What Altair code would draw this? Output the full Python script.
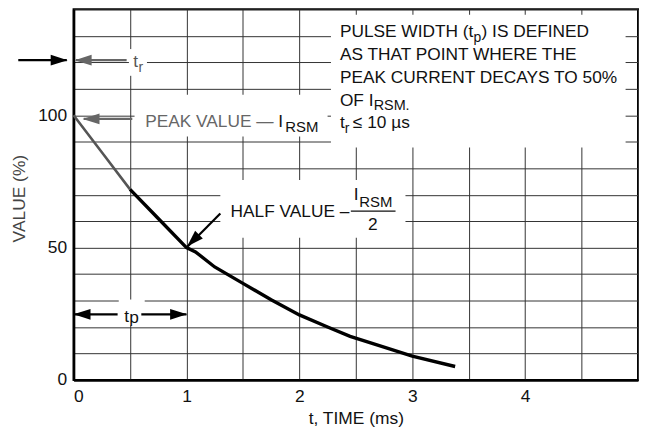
import altair as alt
import pandas as pd

FONT = "Liberation Sans, Arial, Helvetica, sans-serif"

# ---- curve ----
t_ms = [0, 0.25, 0.5, 0.75, 1.0, 1.08, 1.25, 1.5, 1.75, 2.0, 2.25, 2.45, 2.75, 3.0, 3.38]
value_pct = [100, 86, 72, 61, 50, 48.4, 42.7, 36.5, 30.3, 24.6, 20.0, 16.5, 12.4, 9.0, 5.1]
rise_end = 3  # first part of the curve drawn in grey

# ---- axes ----
x_grid = [0, 0.5, 1, 1.5, 2, 2.5, 3, 3.5, 4, 4.5, 5]
y_grid = [0, 10, 20, 30, 40, 50, 60, 70, 80, 90, 100, 110, 120, 130, 140]
x_domain = [0, 5]
y_domain = [0, 140]

# ---- annotation boxes (white, interrupt the grid) ----
box_x = [2.28, 0.54, 1.30, 0.49, 0.40]
box_x2 = [4.89, 2.25, 2.94, 0.65, 0.63]
box_y = [138.0, 107.7, 75.5, 125.0, 30.4]
box_y2 = [87.8, 92.0, 53.7, 114.9, 20.6]

# ---- arrows ----
arr_x = [-0.49, 0.47, 0.52, 1.30, 0.39, 0.60]
arr_x2 = [-0.06, 0.02, 0.09, 1.01, 0.0, 1.0]
arr_y = [120.8, 120.8, 98.6, 62.9, 24.8, 24.8]
arr_y2 = [120.8, 120.8, 98.6, 50.4, 24.8, 24.8]
arr_color = ["#000000", "#666666", "#666666", "#000000", "#000000", "#000000"]
head_x = [-0.053, 0.01, 0.08, 1.005, 0.0, 1.005]
head_y = [120.8, 120.8, 98.6, 50.4, 24.8, 24.8]
head_angle = [0, 180, 180, 135, 180, 0]
head_color = ["#000000", "#666666", "#666666", "#000000", "#000000", "#000000"]

# fraction bar of I_RSM / 2
frac_x, frac_x2, frac_y = [2.456], [2.852], [63.8]

# ---- text pieces (left aligned) ----
txt = ["PULSE WIDTH (t", "p", ") IS DEFINED",
       "AS THAT POINT WHERE THE",
       "PEAK CURRENT DECAYS TO 50%",
       "OF I", "RSM.",
       "t", "r", "\u2264 10 \u00b5s",
       "PEAK VALUE \u2014", "I", "RSM",
       "HALF VALUE \u2013", "I", "RSM",
       "t", "r",
       "t", "p"]
txt_x = [2.359, 3.543, 3.614,
         2.359,
         2.359,
         2.359, 2.658,
         2.359, 2.403, 2.474,
         0.634, 1.813, 1.875,
         1.391, 2.482, 2.531,
         0.528, 0.575,
         0.449, 0.493]
txt_y = [131.4, 129.3, 131.4,
         122.7,
         114.1,
         105.5, 103.6,
         96.9, 94.9, 96.9,
         97.6, 97.6, 95.4,
         63.5, 69.8, 67.4,
         120.2, 118.0,
         23.9, 23.3]
txt_size = [17.4, 14, 17.4,
            17.4,
            17.4,
            17.4, 14.5,
            17.4, 14, 17.4,
            17.4, 17.4, 15,
            17.4, 17.4, 15,
            17.4, 14,
            17.4, 17.4]
txt_color = ["#111111"] * 10 + ["#666666", "#111111", "#111111"] + ["#111111"] * 3 + \
            ["#555555", "#555555"] + ["#111111"] * 2

# centered text
ctxt, ctxt_x, ctxt_y = ["2"], [2.65], [58.6]

# ---------------------------------------------------------------
xs = alt.Scale(domain=x_domain, nice=False, zero=False)
ys = alt.Scale(domain=y_domain, nice=False, zero=False)

xaxis = alt.Axis(values=x_grid, grid=True, ticks=False, title="t, TIME (ms)", format=".0f",
                 labelExpr="(datum.value % 1 == 0 && datum.value < 5) ? datum.label : ''",
                 labelPadding=8, labelFontSize=17.5, labelFont=FONT, labelColor="#111111",
                 titleFont=FONT, titleFontSize=17.5, titleFontWeight="normal", titleColor="#111111",
                 titleX=284, titleY=39, titleBaseline="middle", titleAlign="center",
                 domainColor="#000000", domainWidth=2.5,
                 gridColor="#333333", gridWidth=1)
yaxis = alt.Axis(values=y_grid, grid=True, ticks=False, title="VALUE (%)", format=".0f",
                 labelExpr="(datum.value == 0 || datum.value == 50 || datum.value == 100) ? datum.label : ''",
                 labelPadding=7, labelFontSize=17.5, labelFont=FONT, labelColor="#111111",
                 titleFont=FONT, titleFontSize=17.5, titleFontWeight="normal", titleColor="#444444",
                 titleX=-54, titleY=190, titleAngle=270, titleBaseline="middle", titleAlign="center",
                 domainColor="#000000", domainWidth=2.5,
                 gridColor="#333333", gridWidth=1)


def X(f):
    return alt.X(f, type="quantitative", scale=xs, axis=xaxis)


def Y(f):
    return alt.Y(f, type="quantitative", scale=ys, axis=yaxis)


curve = pd.DataFrame({"x": t_ms, "y": value_pct})
rise = curve.iloc[:rise_end].copy()
decay = curve.iloc[rise_end - 1:].copy()

boxes = pd.DataFrame({"x": box_x, "x2": box_x2, "y": box_y, "y2": box_y2})
arrows = pd.DataFrame({"x": arr_x, "x2": arr_x2, "y": arr_y, "y2": arr_y2, "c": arr_color})
heads = pd.DataFrame({"x": head_x, "y": head_y, "a": head_angle, "c": head_color})
frac = pd.DataFrame({"x": frac_x, "x2": frac_x2, "y": frac_y})
texts = pd.DataFrame({"x": txt_x, "y": txt_y, "t": txt, "s": txt_size, "c": txt_color})
ctexts = pd.DataFrame({"x": ctxt_x, "y": ctxt_y, "t": ctxt})

grid_layer = alt.Chart(curve).mark_point(opacity=0).encode(x=X("x"), y=Y("y"))

box_layer = alt.Chart(boxes).mark_rect(color="white").encode(
    x=X("x"), x2="x2", y=Y("y"), y2="y2")

rise_layer = alt.Chart(rise).mark_line(color="#555555", strokeWidth=2.6).encode(
    x=X("x"), y=Y("y"))
decay_layer = alt.Chart(decay).mark_line(color="#000000", strokeWidth=3.4).encode(
    x=X("x"), y=Y("y"))

arrow_layer = alt.Chart(arrows).mark_rule(strokeWidth=2.2).encode(
    x=X("x"), x2="x2", y=Y("y"), y2="y2", color=alt.Color("c:N", scale=None))

head_layer = alt.Chart(heads).mark_point(
    shape="M 0 0 L -1 -0.32 L -1 0.32 Z", size=1156, filled=True, opacity=1, strokeWidth=0
).encode(x=X("x"), y=Y("y"), angle=alt.Angle("a:Q", scale=None),
         color=alt.Color("c:N", scale=None))

frac_layer = alt.Chart(frac).mark_rule(strokeWidth=1.4, color="#111111").encode(
    x=X("x"), x2="x2", y=Y("y"))

text_layer = alt.Chart(texts).mark_text(align="left", baseline="middle", font=FONT).encode(
    x=X("x"), y=Y("y"), text="t:N", size=alt.Size("s:Q", scale=None),
    color=alt.Color("c:N", scale=None))

ctext_layer = alt.Chart(ctexts).mark_text(align="center", baseline="middle", font=FONT,
                                          fontSize=17.4, color="#111111").encode(
    x=X("x"), y=Y("y"), text="t:N")

chart = alt.layer(grid_layer, box_layer, rise_layer, decay_layer, arrow_layer, head_layer,
                  frac_layer, text_layer, ctext_layer).properties(
    width=568, height=373,
    autosize=alt.AutoSizeParams(type="none"),
    padding={"left": 66, "top": 0, "right": 2, "bottom": 57},
    background="white",
).configure_view(stroke="#000000", strokeWidth=2)

chart.save("out.html", embed_options={"renderer": "svg", "actions": False})
